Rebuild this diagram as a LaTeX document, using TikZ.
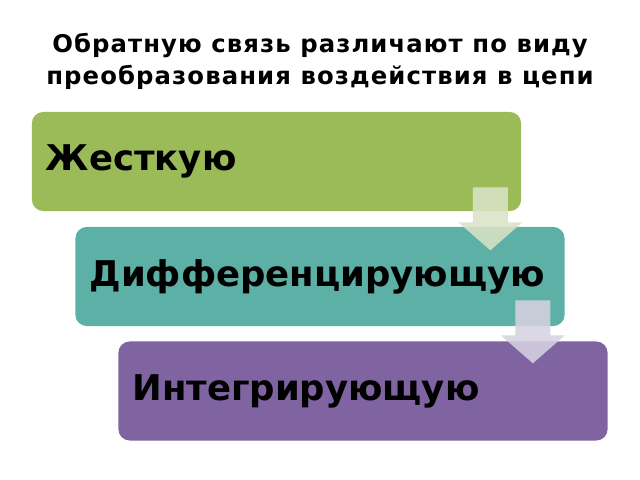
\documentclass[tikz,border=0pt]{standalone}
\usepackage{fontspec}
\setmainfont{DejaVu Sans}
\newfontfamily\titlefont[LetterSpace=4.5]{DejaVu Sans}
\usetikzlibrary{calc}
\definecolor{boxgreen}{HTML}{9BBB59}
\definecolor{boxteal}{HTML}{5CB0A6}
\definecolor{boxviolet}{HTML}{8064A2}
\definecolor{arrgreen}{HTML}{D9E3C6}
\definecolor{arrviolet}{HTML}{D6D2E0}
\tikzstyle{level} = [rectangle, rounded corners=8pt, minimum width=12.225cm, minimum height=2.475cm, inner xsep=0.35cm, text width=11.525cm, align=left, font=\bfseries\fontsize{25.2}{29}\selectfont]
\tikzstyle{title} = [align=center, font=\titlefont\bfseries\fontsize{17.3}{22.6}\selectfont]
\tikzstyle{flow} = [draw=none, fill opacity=0.88]
\newcommand{\flowarrow}[2]{\fill[flow, #2] (#1) ++(-17.5,0) -- ++(35,0) -- ++(0,35) -- ++(14.5,0) -- ++(-32,28) -- ++(-32,-28) -- ++(14.5,0) -- cycle;}
\begin{document}
\begin{tikzpicture}[x=0.025cm, y=-0.025cm]
            \useasboundingbox (0,0) rectangle (640,480);
            \node [title] at (320,61) (head) {Обратную связь различают по виду\\преобразования воздействия в цепи};
            \node [level, fill=boxgreen] at (276.5,161.5) (rigid) {Жесткую};
            \node [level, fill=boxteal] at (320,276.5) (diff) {Дифференцирующую};
            \node [level, fill=boxviolet] at (363,391) (integ) {Интегрирующую};
            \coordinate (a1) at ($(rigid.south east)+(-31,-24)$);
            \coordinate (a2) at ($(diff.south east)+(-32,-26)$);
            \flowarrow{a1}{fill=arrgreen}
            \flowarrow{a2}{fill=arrviolet}
            \end{tikzpicture}
\end{document}
